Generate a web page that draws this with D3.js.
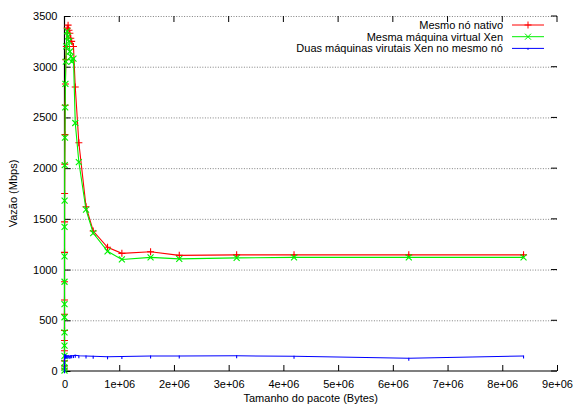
<!DOCTYPE html>
<html><head><meta charset="utf-8">
<script src="https://cdn.jsdelivr.net/npm/d3@7"></script>
<style>body{margin:0;background:#fff}svg{display:block}text{font-family:"Liberation Sans",Arial,sans-serif;font-size:11px;fill:#000}</style>
</head><body><svg id="c" width="574" height="405"></svg>
<script>
const seriesNames = ["Mesmo nó nativo", "Mesma máquina virtual Xen", "Duas máquinas virutais Xen no mesmo nó"];
const seriesColors = ["#ff0000", "#00f000", "#0000ff"];
const sizes = [1,2,4,8,16,32,64,128,256,512,1024,2048,4096,8192,12288,16384,24576,32768,49152,65536,81920,98304,114688,131072,163840,196608,262144,393216,524288,786432,1048576,1572864,2097152,3145728,4194304,6291456,8388608];
const nativo = [20,50,100,200,300,400,560,700,880,1170,1470,1750,2040,2330,2620,2830,3070,3200,3380,3410,3360,3330,3280,3250,3200,2800,2250,1620,1380,1220,1160,1175,1140,1145,1145,1145,1145];
const vmXen  = [5,30,80,150,250,380,530,660,880,1130,1420,1680,2030,2300,2600,2830,3050,3200,3350,3300,3250,3150,3100,3050,3080,2445,2060,1590,1360,1180,1100,1120,1105,1115,1120,1120,1120];
const duasVm = [2,5,10,20,40,60,90,110,130,150,160,140,150,145,150,155,145,150,148,150,147,145,150,150,152,155,150,148,145,140,143,148,148,150,145,125,148];
const xTicks = [0,1e6,2e6,3e6,4e6,5e6,6e6,7e6,8e6,9e6];
const xTickLabels = ["0","1e+06","2e+06","3e+06","4e+06","5e+06","6e+06","7e+06","8e+06","9e+06"];
const yTicks = [0,500,1000,1500,2000,2500,3000,3500];
const yTickLabels = ["0","500","1000","1500","2000","2500","3000","3500"];
const xLabel = "Tamanho do pacote (Bytes)";
const yLabel = "Vazão (Mbps)";

const svg = d3.select("#c");
const L = 64.5, R = 557, T = 16, B = 371;
const x = d3.scaleLinear().domain([0, 9e6]).range([L, R]);
const y = d3.scaleLinear().domain([0, 3500]).range([B, T]);

// grid
svg.append("g").selectAll("line").data(yTicks.slice(1)).join("line")
  .attr("x1", L).attr("x2", R).attr("y1", d => y(d)+0.5).attr("y2", d => y(d)+0.5)
  .attr("stroke", "#808080").attr("stroke-width", 1).attr("stroke-dasharray", "1,1.6");

// axes
const ax = svg.append("g").attr("transform", `translate(0,${B})`)
  .call(d3.axisBottom(x).tickValues(xTicks).tickFormat((d,i) => xTickLabels[i]).tickSize(-6).tickPadding(9));
const ay = svg.append("g").attr("transform", `translate(${L},0)`)
  .call(d3.axisLeft(y).tickValues(yTicks).tickFormat((d,i) => yTickLabels[i]).tickSize(-6).tickPadding(7));
[ax, ay].forEach(g => { g.select(".domain").remove(); g.selectAll("text").style("font-size","11px").style("font-family","Liberation Sans, Arial, sans-serif").attr("fill","#000"); g.selectAll("line").attr("stroke","#000"); });
// mirror ticks
svg.append("g").selectAll("line").data(xTicks).join("line")
  .attr("x1", d => x(d)).attr("x2", d => x(d)).attr("y1", T).attr("y2", T+6).attr("stroke", "#000");
svg.append("g").selectAll("line").data(yTicks).join("line")
  .attr("x1", R).attr("x2", R-6).attr("y1", d => y(d)).attr("y2", d => y(d)).attr("stroke", "#000");
// border left + bottom
svg.append("path").attr("d", `M${L},${T}V${B}H${R}`).attr("fill","none").attr("stroke","#000").attr("stroke-width",1.2);

const line = d3.line().x(d => x(d[0])).y(d => y(d[1]));
const all = [nativo, vmXen, duasVm];
all.forEach((vals, i) => {
  const pts = sizes.map((s, j) => [s, vals[j]]);
  const g = svg.append("g");
  g.append("path").datum(pts).attr("d", line).attr("fill","none").attr("stroke", seriesColors[i]).attr("stroke-width", 1.1);
  const m = g.selectAll("path.m").data(pts).join("path").attr("class","m")
    .attr("transform", d => `translate(${x(d[0])},${y(d[1])})`)
    .attr("fill","none").attr("stroke", seriesColors[i]).attr("stroke-width", 1.1);
  if (i === 0) m.attr("d", "M-3.5,0H3.5M0,-3.5V3.5");
  else if (i === 1) m.attr("d", "M-3,-3L3,3M-3,3L3,-3");
  else m.attr("d", "M0,-0.5V2.5");
});

// legend
seriesNames.forEach((n, i) => {
  const yy = 25 + i * 11.7;
  svg.append("text").attr("x", 503).attr("y", yy).attr("dy", "0.35em").attr("text-anchor","end").text(n);
  svg.append("line").attr("x1", 512).attr("x2", 544).attr("y1", yy).attr("y2", yy).attr("stroke", seriesColors[i]);
  const mk = svg.append("path").attr("transform", `translate(528,${yy})`).attr("fill","none").attr("stroke", seriesColors[i]);
  if (i === 0) mk.attr("d", "M-3.5,0H3.5M0,-3.5V3.5");
  else if (i === 1) mk.attr("d", "M-3,-3L3,3M-3,3L3,-3");
  else mk.attr("d", "M0,-0.5V1.5");
});

svg.append("text").attr("x", (L+R)/2).attr("y", 402).attr("text-anchor","middle").text(xLabel);
svg.append("text").attr("transform", `translate(17,${(T+B)/2}) rotate(-90)`).attr("text-anchor","middle").text(yLabel);
</script></body></html>
